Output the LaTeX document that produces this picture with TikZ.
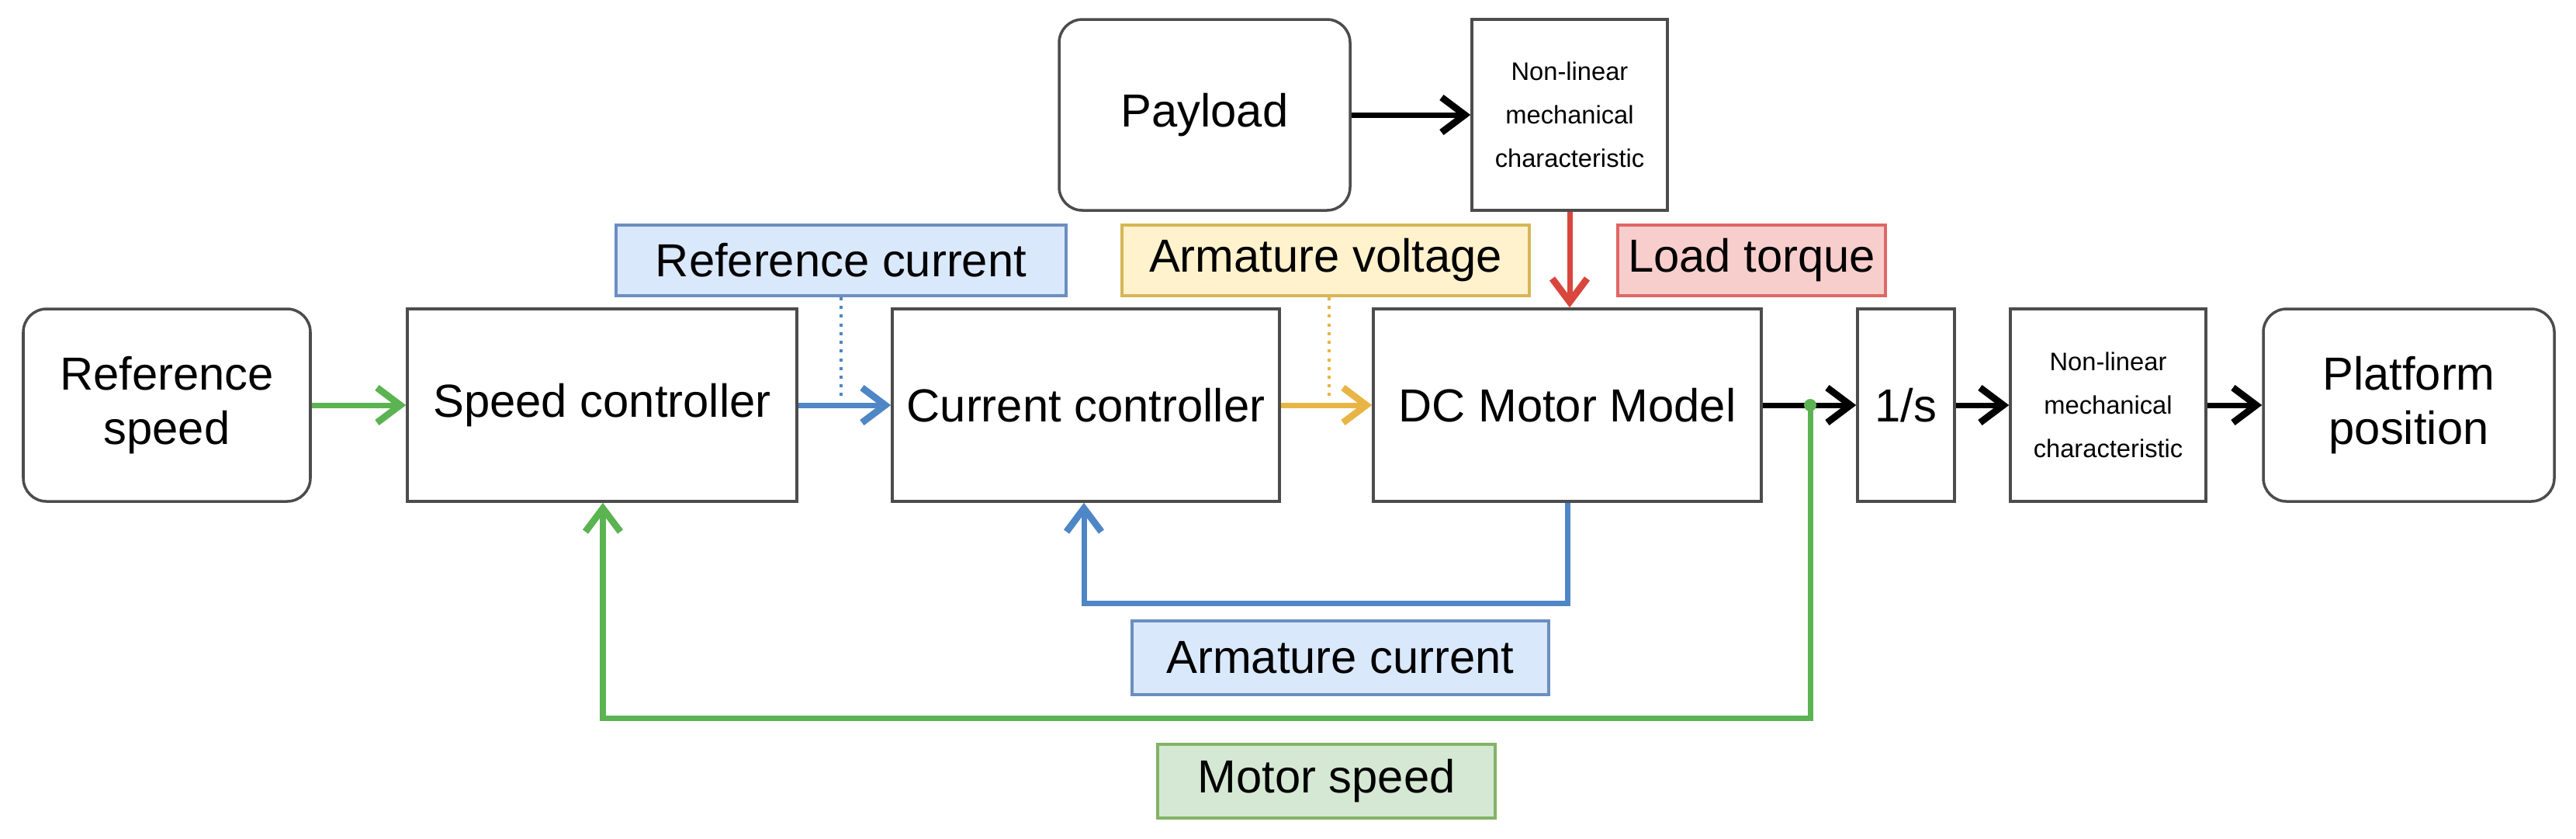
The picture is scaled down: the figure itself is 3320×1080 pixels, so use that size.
\documentclass[tikz,border=0pt]{standalone}
\usepackage{fontspec}
\setmainfont{Liberation Sans}
\usetikzlibrary{arrows.meta}
\definecolor{bl}{HTML}{4F86C6}
\definecolor{gr}{HTML}{5CB352}
\definecolor{ye}{HTML}{E8B545}
\definecolor{rd}{HTML}{D9463E}
\definecolor{blf}{HTML}{DAE8FC}\definecolor{bld}{HTML}{6C8EBF}
\definecolor{yef}{HTML}{FFF2CC}\definecolor{yed}{HTML}{D6B656}
\definecolor{rdf}{HTML}{F8CECC}\definecolor{rdd}{HTML}{E06666}
\definecolor{grf}{HTML}{D5E8D4}\definecolor{grd}{HTML}{82B366}
\begin{document}
\begin{tikzpicture}[x=0.1mm,y=-0.1mm,
 box/.style={draw=black!70,line width=1pt,fill=white,inner sep=0pt,font=\fontsize{17}{20}\selectfont,align=center},
 sm/.style={box,font=\fontsize{9.3}{16}\selectfont},
 lab/.style={line width=1pt,inner sep=0pt,font=\fontsize{17}{20}\selectfont},
 ar/.style={line width=2pt,-{Straight Barb[length=3mm,width=4.5mm,line width=2.5pt]}}]
\useasboundingbox (0,0) rectangle (3320,1080);
\newcommand\bx[6]{\node[#1,minimum width=#4*0.1mm-#2*0.1mm,minimum height=#5*0.1mm-#3*0.1mm] (#6) at ({(#2+#4)/2},{(#3+#5)/2})}
\bx{box,rounded corners=3mm}{30}{398}{400}{646}{rs} {Reference\\speed};
\bx{box}{525}{398}{1027}{646}{sc} {Speed controller};
\bx{box}{1150}{398}{1649}{646}{cc} {Current controller};
\bx{box}{1770}{398}{2270}{646}{dc} {DC Motor Model};
\bx{box}{2394}{398}{2519}{646}{is} {1/s};
\bx{sm}{2591}{398}{2843}{646}{nl2} {Non-linear\\mechanical\\characteristic};
\bx{box,rounded corners=3mm}{2917}{398}{3292}{646}{pp} {Platform\\position};
\bx{box,rounded corners=3mm}{1365}{25}{1740}{271}{pl} {Payload};
\bx{sm}{1897}{25}{2149}{271}{nl1} {Non-linear\\mechanical\\characteristic};
\bx{lab,fill=blf,draw=bld}{794}{290}{1374}{381}{lrc} {Reference current};
\bx{lab,fill=yef,draw=yed}{1446}{290}{1971}{381}{lav} {Armature voltage};
\bx{lab,fill=rdf,draw=rdd}{2085}{290}{2430}{381}{llt} {Load torque};
\bx{lab,fill=blf,draw=bld}{1459}{800}{1996}{895}{lac} {Armature current};
\bx{lab,fill=grf,draw=grd}{1492}{959}{1927}{1054}{lms} {Motor speed};
\coordinate (j) at (2333,522);
\draw[ar,gr] (rs) -- (sc);
\draw[ar,bl] (sc) -- (cc);
\draw[ar,ye] (cc) -- (dc);
\draw[ar,black] (dc.east) -- (is.west);
\draw[ar,black] (is) -- (nl2);
\draw[ar,black] (nl2) -- (pp);
\draw[ar,black] (pl) -- (nl1);
\draw[ar,rd] (nl1) -- (dc.north -| nl1);
\draw[bl,line width=1.2pt,dotted] (lrc.south -| 1084,0) -- (1084,510);
\draw[ye,line width=1.2pt,dotted] (lav.south -| 1713,0) -- (1713,510);
\draw[ar,bl] (dc.south -| 2020,0) -- (2020,777) -| (cc.south -| 1397,0);
\draw[ar,gr] (j) -- (2333,925) -| (sc.south -| 777,0);
\fill[gr] (j) circle (8);
\end{tikzpicture}
\end{document}
